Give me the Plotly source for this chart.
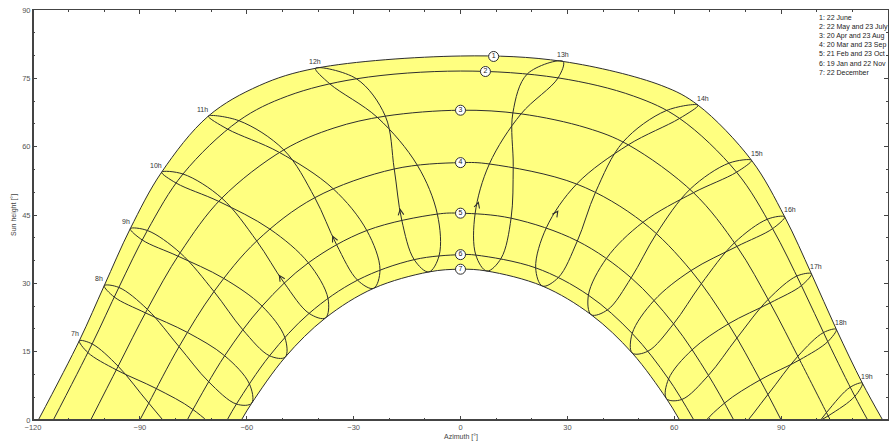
import plotly.graph_objects as go

hours = [7, 8, 9, 10, 11, 12, 13, 14, 15, 16, 17, 18, 19]
hour_labels = [f"{h}h" for h in hours]

# Sun position at each clock hour 7h..19h (azimuth [deg], sun height [deg]) per date
dec22_az = [-66.7, -58.6, -49.2, -37.9, -24.4, -8.9, 7.4, 23.0, 36.7, 48.2, 57.8, 66.0, 73.4]
dec22_alt = [-7.4, 3.7, 13.8, 22.4, 28.9, 32.5, 32.7, 29.4, 23.1, 14.7, 4.7, -6.3, -18.1]
jan19_az = [-71.1, -62.9, -53.6, -42.5, -28.9, -13.0, 4.3, 21.1, 35.9, 48.2, 58.4, 67.1, 74.8]
jan19_alt = [-8.1, 3.5, 14.1, 23.4, 30.7, 35.2, 36.2, 33.4, 27.4, 19.0, 9.0, -2.1, -14.0]
feb21_az = [-79.1, -70.7, -61.1, -49.5, -34.8, -16.5, 4.1, 24.1, 41.0, 54.3, 65.0, 74.1, 82.3]
feb21_alt = [-3.7, 8.4, 19.8, 30.1, 38.5, 43.9, 45.3, 42.2, 35.5, 26.2, 15.4, 3.7, -8.5]
mar20_az = [-87.5, -79.0, -69.2, -57.2, -40.9, -18.6, 8.1, 32.6, 51.2, 64.7, 75.2, 84.1, 92.5]
mar20_alt = [3.7, 16.1, 28.2, 39.3, 48.8, 55.1, 56.2, 51.8, 43.4, 32.8, 21.1, 8.8, -3.7]
apr20_az = [-96.1, -87.9, -78.7, -67.0, -49.6, -21.1, 17.0, 47.1, 65.4, 77.6, 86.9, 95.2, 103.2]
apr20_alt = [11.8, 24.3, 36.7, 48.7, 59.3, 66.7, 67.2, 60.4, 49.9, 38.1, 25.7, 13.2, 0.9]
may22_az = [-103.4, -95.9, -87.9, -77.9, -62.2, -29.2, 27.4, 61.5, 77.5, 87.6, 95.7, 103.1, 110.7]
may22_alt = [16.7, 29.1, 41.6, 54.0, 65.7, 74.9, 75.1, 66.2, 54.4, 42.0, 29.5, 17.2, 5.2]
jun22_az = [-107.0, -100.0, -92.7, -83.9, -70.8, -40.7, 28.8, 66.7, 81.7, 91.0, 98.5, 105.5, 112.8]
jun22_alt = [17.4, 29.5, 42.0, 54.4, 66.7, 77.2, 78.7, 69.1, 57.0, 44.6, 32.1, 19.9, 8.1]
jul23_az = [-104.6, -97.2, -89.3, -79.8, -65.5, -36.7, 18.8, 57.7, 75.4, 86.2, 94.4, 101.9, 109.4]
jul23_alt = [14.8, 27.0, 39.5, 52.0, 63.9, 73.8, 76.0, 67.9, 56.4, 44.1, 31.6, 19.2, 7.2]
aug23_az = [-96.6, -88.4, -79.4, -67.9, -51.0, -23.3, 14.7, 45.6, 64.5, 76.9, 86.4, 94.7, 102.7]
aug23_alt = [11.0, 23.5, 36.0, 48.0, 58.8, 66.4, 67.4, 61.0, 50.7, 38.9, 26.5, 14.0, 1.6]
sep23_az = [-85.4, -76.6, -66.5, -53.5, -35.8, -12.1, 14.8, 37.9, 55.0, 67.6, 77.6, 86.3, 94.6]
sep23_alt = [6.9, 19.2, 31.1, 41.9, 50.8, 55.9, 55.6, 50.0, 40.9, 29.9, 18.0, 5.6, -6.9]
oct23_az = [-75.1, -66.2, -55.7, -42.7, -26.3, -6.5, 14.2, 32.8, 47.9, 59.8, 69.6, 78.2, 86.2]
oct23_alt = [2.3, 14.1, 25.0, 34.5, 41.6, 45.2, 44.3, 39.3, 31.2, 21.1, 9.8, -2.2, -14.6]
nov22_az = [-67.8, -59.3, -49.3, -37.2, -22.6, -6.0, 11.4, 27.5, 41.3, 52.6, 62.1, 70.3, 77.9]
nov22_alt = [-3.2, 8.0, 18.1, 26.7, 33.0, 36.1, 35.5, 31.3, 24.2, 15.1, 4.5, -6.9, -19.0]

# Daily sun paths (curves 1..7)
path1_az = [-118.5, -107.0, -100.0, -92.7, -83.9, -70.8, -56.5, -40.7, 0.0, 28.8, 56.5, 66.7, 81.7, 91.0, 98.5, 105.5, 112.8, 118.5]
path1_alt = [0.0, 17.4, 29.5, 42.0, 54.4, 66.7, 73.4, 77.2, 79.9, 78.7, 73.4, 69.1, 57.0, 44.6, 32.1, 19.9, 8.1, 0.0]
path2_az = [-114.3, -103.4, -95.9, -87.9, -77.9, -62.2, -48.6, -29.2, 0.0, 27.4, 48.6, 61.5, 77.5, 87.6, 95.7, 103.1, 110.7, 114.3]
path2_alt = [0.0, 16.7, 29.1, 41.6, 54.0, 65.7, 71.1, 74.9, 76.6, 75.1, 71.1, 66.2, 54.4, 42.0, 29.5, 17.2, 5.2, 0.0]
path3_az = [-103.8, -96.1, -87.9, -78.7, -67.0, -49.6, -35.5, -21.1, 0.0, 17.0, 35.5, 47.1, 65.4, 77.6, 86.9, 95.2, 103.2, 103.8]
path3_alt = [0.0, 11.8, 24.3, 36.7, 48.7, 59.3, 64.1, 66.7, 68.0, 67.2, 64.1, 60.4, 49.9, 38.1, 25.7, 13.2, 0.9, 0.0]
path4_az = [-90.0, -87.5, -79.0, -69.2, -57.2, -40.9, -18.6, 0.0, 8.1, 32.6, 51.2, 64.7, 75.2, 84.1, 90.0]
path4_alt = [0.0, 3.7, 16.1, 28.2, 39.3, 48.8, 55.1, 56.5, 56.2, 51.8, 43.4, 32.8, 21.1, 8.8, 0.0]
path5_az = [-76.7, -75.1, -66.2, -55.7, -42.7, -26.3, -6.5, 0.0, 14.2, 32.8, 47.9, 59.8, 69.6, 76.7]
path5_alt = [0.0, 2.3, 14.1, 25.0, 34.5, 41.6, 45.2, 45.4, 44.3, 39.3, 31.2, 21.1, 9.8, 0.0]
path6_az = [-65.5, -62.9, -53.6, -42.5, -28.9, -13.0, 0.0, 4.3, 21.1, 35.9, 48.2, 58.4, 65.5]
path6_alt = [0.0, 3.5, 14.1, 23.4, 30.7, 35.2, 36.3, 36.2, 33.4, 27.4, 19.0, 9.0, 0.0]
path7_az = [-61.5, -58.6, -49.2, -37.9, -24.4, -8.9, 0.0, 7.4, 23.0, 36.7, 48.2, 57.8, 61.5]
path7_alt = [0.0, 3.7, 13.8, 22.4, 28.9, 32.5, 33.1, 32.7, 29.4, 23.1, 14.7, 4.7, 0.0]

# numbered curve markers
mark_text = ["1", "2", "3", "4", "5", "6", "7"]
mark_az = [9.3, 7.0, 0.0, 0.0, 0.0, 0.0, 0.0]
mark_alt = [79.8, 76.5, 68.0, 56.5, 45.4, 36.3, 33.1]

legend_lines = ["1: 22 June", "2: 22 May and 23 July", "3: 20 Apr and 23 Aug",
                "4: 20 Mar and 23 Sep", "5: 21 Feb and 23 Oct", "6: 19 Jan and 22 Nov",
                "7: 22 December"]

# arrow location on each hour curve (8h..18h), as a fraction of the way from 21 Feb to 20 Mar
arrow_hours = [8, 9, 10, 11, 12, 13, 14, 15, 16, 17, 18]
arrow_frac = [0.15, 0.2, 0.2, 0.2, 0.23, 0.25, 0.4, 0.28, 0.21, 0.28, 0.24]

label_dx = [-4, -5, -4, -6, -6, -1, 0, 5, 5, 5, 5, 5, 5]

LINE = "#2e2e2e"
FONT = "Liberation Sans, Arial, sans-serif"

date_az = [dec22_az, jan19_az, feb21_az, mar20_az, apr20_az, may22_az, jun22_az,
           jul23_az, aug23_az, sep23_az, oct23_az, nov22_az]
date_alt = [dec22_alt, jan19_alt, feb21_alt, mar20_alt, apr20_alt, may22_alt, jun22_alt,
            jul23_alt, aug23_alt, sep23_alt, oct23_alt, nov22_alt]

fig = go.Figure()

# yellow band between the 22 December and 22 June paths
fig.add_trace(go.Scatter(x=path7_az, y=path7_alt, mode="lines",
                         line=dict(width=0, shape="spline", color="rgba(0,0,0,0)"),
                         hoverinfo="skip", showlegend=False))
fig.add_trace(go.Scatter(x=path1_az, y=path1_alt, mode="lines", fill="tonext",
                         fillcolor="#FFFF80",
                         line=dict(width=0, shape="spline", color="rgba(0,0,0,0)"),
                         hoverinfo="skip", showlegend=False))

# hour curves (closed loops over the year)
for i, h in enumerate(hours):
    xs = [a[i] for a in date_az] + [date_az[0][i]]
    ys = [a[i] for a in date_alt] + [date_alt[0][i]]
    fig.add_trace(go.Scatter(x=xs, y=ys, mode="lines",
                             line=dict(color=LINE, width=1, shape="spline", simplify=False),
                             hoverinfo="skip", showlegend=False))

# daily paths
for px_, py_ in [(path1_az, path1_alt), (path2_az, path2_alt), (path3_az, path3_alt),
                 (path4_az, path4_alt), (path5_az, path5_alt), (path6_az, path6_alt),
                 (path7_az, path7_alt)]:
    fig.add_trace(go.Scatter(x=px_, y=py_, mode="lines",
                             line=dict(color=LINE, width=1, shape="spline", simplify=False),
                             hoverinfo="skip", showlegend=False))

# numbered markers
fig.add_trace(go.Scatter(x=mark_az, y=mark_alt, mode="markers+text", text=mark_text,
                         textposition="middle center",
                         textfont=dict(size=7, color="#222222", family=FONT),
                         marker=dict(size=10, color="white", line=dict(color=LINE, width=1)),
                         hoverinfo="skip", showlegend=False, cliponaxis=False))

annotations = []
# hour labels at the 22 June position
for i, lab in enumerate(hour_labels):
    annotations.append(dict(x=jun22_az[i], y=jun22_alt[i], xref="x", yref="y", text=lab,
                            showarrow=False, xshift=label_dx[i], yshift=7,
                            font=dict(size=7, color="#333333", family=FONT)))

# direction arrows
feb_i, mar_i = 2, 3
for h, f in zip(arrow_hours, arrow_frac):
    i = hours.index(h)
    x0, y0 = date_az[feb_i][i], date_alt[feb_i][i]
    x1, y1 = date_az[mar_i][i], date_alt[mar_i][i]
    tipx, tipy = x0 + f * (x1 - x0), y0 + f * (y1 - y0)
    tx, ty = x0 + (f - 0.08) * (x1 - x0), y0 + (f - 0.08) * (y1 - y0)
    annotations.append(dict(x=tipx, y=tipy, ax=tx, ay=ty, xref="x", yref="y",
                            axref="x", ayref="y", text="", showarrow=True,
                            arrowhead=5, arrowsize=1.1, arrowwidth=1, arrowcolor=LINE))

# legend text
annotations.append(dict(x=0.9166, y=0.995, xref="paper", yref="paper", xanchor="left",
                        yanchor="top", align="left", showarrow=False,
                        text="<br>".join(legend_lines),
                        font=dict(size=7, color="#222222", family=FONT)))

# axis titles
annotations.append(dict(x=0.5, y=-0.0415, xref="paper", yref="paper", text="Azimuth [°]",
                        showarrow=False, yanchor="middle",
                        font=dict(size=7, color="#444444", family=FONT)))
annotations.append(dict(x=-0.0222, y=0.5, xref="paper", yref="paper", text="Sun height [°]",
                        showarrow=False, textangle=-90, xanchor="center", yanchor="middle",
                        font=dict(size=7, color="#444444", family=FONT)))

axis_common = dict(showgrid=False, zeroline=False, showline=True, linecolor="#444444",
                   linewidth=1, mirror="allticks", ticks="inside", ticklen=4,
                   tickcolor="#444444", tickwidth=1, automargin=False,
                   tickfont=dict(size=7.5, color="#555555", family=FONT))

fig.update_layout(
    template="none",
    width=890, height=441,
    margin=dict(l=33, r=2, t=10, b=21, autoexpand=False),
    paper_bgcolor="white", plot_bgcolor="white",
    showlegend=False,
    hovermode=False,
    xaxis=dict(range=[-120, 120], tick0=0, dtick=30,
               minor=dict(dtick=10, ticks="inside", ticklen=2, tickcolor="#444444"),
               **axis_common),
    yaxis=dict(range=[0, 90], tick0=0, dtick=15,
               minor=dict(dtick=5, ticks="inside", ticklen=2, tickcolor="#444444"),
               **axis_common),
    annotations=annotations,
    shapes=[
        dict(type="line", xref="paper", yref="paper", x0=0, x1=0, y0=0, y1=1,
             line=dict(color="#444444", width=2), layer="above"),
        dict(type="line", xref="paper", yref="paper", x0=0, x1=1, y0=0, y1=0,
             line=dict(color="#444444", width=2), layer="above"),
    ],
)

fig.write_html("out.html",
               config={"displayModeBar": False, "staticPlot": True},
               post_script="document.body.style.margin='0';document.body.style.overflow='hidden';")
